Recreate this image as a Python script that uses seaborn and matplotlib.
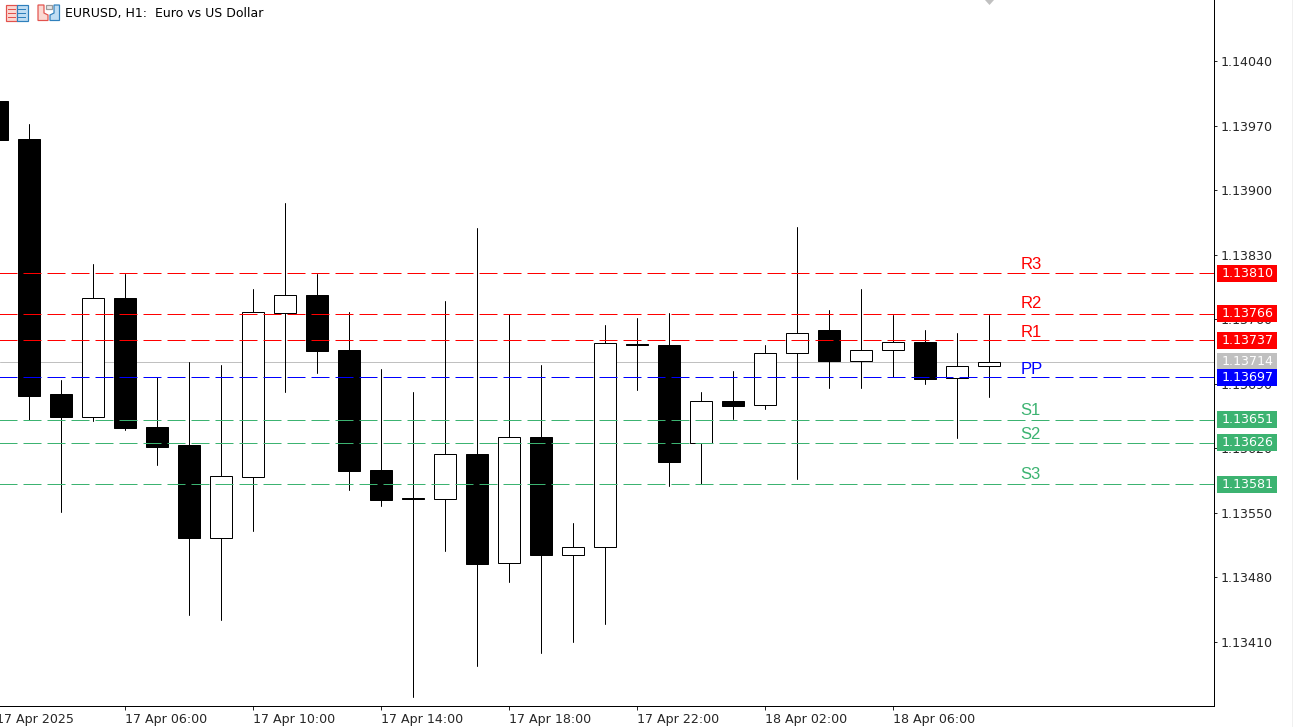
"""EURUSD H1 candles with pivot levels, in the terminal's look."""

import matplotlib

matplotlib.use("Agg")
import matplotlib.pyplot as plt
import matplotlib.transforms as mtransforms
import numpy as np
import pandas as pd
import seaborn as sns
from matplotlib.patches import Polygon, Rectangle

OPEN = [
    1.13997, 1.13955, 1.13679, 1.13654, 1.13783, 1.13643, 1.13623, 1.13523,
    1.13589, 1.13767, 1.13786, 1.13726, 1.13596, 1.13566, 1.13565, 1.13614,
    1.13495, 1.13632, 1.13504, 1.13513, 1.13733, 1.13732, 1.13626, 1.13671,
    1.13667, 1.13723, 1.13748, 1.13715, 1.13727, 1.13735, 1.13696, 1.13709,
]
CLOSE = [
    1.13954, 1.13677, 1.13654, 1.13783, 1.13642, 1.13621, 1.13523, 1.13590,
    1.13768, 1.13786, 1.13725, 1.13595, 1.13564, 1.13565, 1.13614, 1.13494,
    1.13632, 1.13504, 1.13513, 1.13734, 1.13732, 1.13605, 1.13671, 1.13666,
    1.13723, 1.13745, 1.13715, 1.13727, 1.13735, 1.13695, 1.13709, 1.13714,
]
HIGH = [
    1.13997, 1.13972, 1.13694, 1.13820, 1.13809, 1.13697, 1.13713, 1.13710,
    1.13793, 1.13886, 1.13809, 1.13768, 1.13706, 1.13681, 1.13780, 1.13859,
    1.13766, 1.13710, 1.13539, 1.13754, 1.13761, 1.13767, 1.13681, 1.13704,
    1.13732, 1.13860, 1.13770, 1.13793, 1.13765, 1.13748, 1.13745, 1.13764,
]
LOW = [
    1.13954, 1.13650, 1.13551, 1.13649, 1.13640, 1.13602, 1.13439, 1.13433,
    1.13530, 1.13681, 1.13701, 1.13575, 1.13557, 1.13350, 1.13508, 1.13384,
    1.13475, 1.13398, 1.13410, 1.13429, 1.13683, 1.13579, 1.13581, 1.13652,
    1.13663, 1.13586, 1.13685, 1.13685, 1.13697, 1.13690, 1.13631, 1.13675,
]

LEVEL_NAMES = ["R3", "R2", "R1", "PP", "S1", "S2", "S3"]
LEVEL_PRICES = [1.13810, 1.13766, 1.13737, 1.13697, 1.13651, 1.13626, 1.13581]
LEVEL_COLORS = ["#FF0000", "#FF0000", "#FF0000", "#0000FF", "#3CB371", "#3CB371", "#3CB371"]
LEVEL_TEXT_OFFSETS = [4, 5.5, 3.5, 3, 5, 4, 5.5]  # px above the line
LAST_PRICE = 1.13714
LAST_COLOR = "#C0C0C0"

Y_TICKS = [1.14040, 1.13970, 1.13900, 1.13830, 1.13760, 1.13690, 1.13620, 1.13550, 1.13480, 1.13410]
X_TICKS = [4, 8, 12, 16, 20, 24, 28]
X_TICK_LABELS = [
    "17 Apr 06:00", "17 Apr 10:00", "17 Apr 14:00", "17 Apr 18:00",
    "17 Apr 22:00", "18 Apr 02:00", "18 Apr 06:00",
]
FIRST_LABEL = "17 Apr 2025"
TITLE = "EURUSD, H1:  Euro vs US Dollar"

W, H = 1293, 727
PX = 0.72  # one pixel in points at dpi 100
PRICE_PER_PX = 1.0853e-5
FONT_SIZE = 9.1

sns.set_style("white")
plt.rcParams["font.family"] = ["DejaVu Sans"]
plt.rcParams["font.size"] = FONT_SIZE


def icon_poly(fig, pts, fc, ec=None):
    # icons are given in screen pixels, y down
    xy = [(x, H - y) for x, y in pts]
    fig.add_artist(Polygon(xy, closed=True, transform=mtransforms.IdentityTransform(),
                           fc=fc, ec=ec or "none", lw=PX * 1.2))


def draw_icons(fig):
    red, pink = "#E2524D", "#FBD8D2"
    blue, pale = "#2F80BC", "#BFDDF3"
    icon_poly(fig, [(6, 4.5), (17, 4.5), (17, 20.5), (6, 20.5)], pink, red)
    icon_poly(fig, [(17, 4.5), (27.5, 4.5), (27.5, 20.5), (17, 20.5)], pale, blue)
    for y in (8.5, 12.5, 16.5):
        icon_poly(fig, [(8, y), (16, y), (16, y + 1.5), (8, y + 1.5)], red)
        icon_poly(fig, [(18, y), (26, y), (26, y + 1.5), (18, y + 1.5)], blue)
    icon_poly(fig, [(38, 5), (44, 5), (44, 13), (48, 15), (48, 20.5), (38, 20.5)], pink, red)
    icon_poly(fig, [(50, 15), (54, 13), (54, 5), (59.5, 5), (59.5, 20.5), (50, 20.5)], pale, blue)
    icon_poly(fig, [(45.5, 5), (52, 5), (52, 8.5), (45.5, 8.5)], "#E8E8E8", "#9A9A9A")


def main():
    candles = pd.DataFrame({"bar": np.arange(len(OPEN)), "open": OPEN, "close": CLOSE, "high": HIGH, "low": LOW})
    candles["top"] = candles[["open", "close"]].max(axis=1)
    candles["bottom"] = candles[["open", "close"]].min(axis=1)
    candles["size"] = candles["top"] - candles["bottom"]
    wicks = candles.melt(id_vars="bar", value_vars=["high", "low"], value_name="price").sort_values("bar")

    fig = plt.figure(figsize=(W / 100, H / 100), dpi=100, facecolor="white")
    ax = fig.add_axes([0, (H - 705.5) / H, 1213.5 / W, 706.5 / H])

    x_left = 3.5 / 32
    x_right = x_left + 1213.5 / 32

    sns.lineplot(x=[x_left, x_right], y=[LAST_PRICE, LAST_PRICE], ax=ax, color=LAST_COLOR,
                 linewidth=PX, zorder=1)
    sns.lineplot(data=wicks, x="bar", y="price", units="bar", estimator=None, ax=ax,
                 color="black", linewidth=PX, zorder=2)

    for bearish, fill in ((True, "black"), (False, "white")):
        part = candles[(candles["open"] > candles["close"]) == bearish]
        sns.barplot(data=part, x="bar", y="size", bottom=part["bottom"].to_numpy(), native_scale=True,
                    ax=ax, width=22 / 32, color=fill, saturation=1, edgecolor="black",
                    linewidth=PX, zorder=3, errorbar=None)

    for name, price, color, off in zip(LEVEL_NAMES, LEVEL_PRICES, LEVEL_COLORS, LEVEL_TEXT_OFFSETS):
        sns.lineplot(x=[0, x_right], y=[price, price], ax=ax, color=color, linewidth=PX,
                     linestyle=(0, (18, 6)), zorder=4)
        ax.annotate(name, xy=(32, price), xytext=(0, off * PX), textcoords="offset points",
                    color=color, fontsize=12, family="Liberation Sans", va="baseline", ha="left", zorder=5)

    ax.set_xlim(x_left, x_right)
    ax.set_ylim(1.133407, 1.141074)
    ax.set_xlabel("")
    ax.set_ylabel("")

    ax.yaxis.tick_right()
    ax.set_yticks(Y_TICKS)
    ax.set_yticklabels([f"{v:.5f}" for v in Y_TICKS])
    ax.set_xticks(X_TICKS)
    ax.set_xticklabels(X_TICK_LABELS, ha="left")
    ax.tick_params(axis="y", right=True, left=False, length=3 * PX, width=PX, pad=4.5 * PX, labelsize=FONT_SIZE)
    ax.tick_params(axis="x", bottom=True, length=4 * PX, width=PX, pad=4 * PX, labelsize=FONT_SIZE)
    nudge = mtransforms.ScaledTranslation(0.4 / 100, 0, fig.dpi_scale_trans)
    for label in ax.get_xticklabels():
        label.set_transform(label.get_transform() + nudge)
    ax.set_facecolor("white")
    for side in ("left", "top"):
        ax.spines[side].set_visible(False)
    for side in ("right", "bottom"):
        ax.spines[side].set_color("black")
        ax.spines[side].set_linewidth(PX)

    ax.annotate(FIRST_LABEL, xy=(0, 0), xycoords=ax.get_xaxis_transform(), xytext=(0, -8 * PX),
                textcoords="offset points", ha="left", va="top", fontsize=FONT_SIZE, annotation_clip=False)

    # price tags sit in the right margin, x in screen pixels
    tag_trans = mtransforms.blended_transform_factory(mtransforms.IdentityTransform(), ax.transData)
    half = 8.5 * PRICE_PER_PX
    tags = [(LAST_PRICE, LAST_COLOR)] + list(zip(LEVEL_PRICES, LEVEL_COLORS))
    for i, (price, color) in enumerate(tags):
        ax.add_patch(Rectangle((1217, price - half), 60, 2 * half, transform=tag_trans, fc=color,
                               ec="none", clip_on=False, zorder=6 + i))
        ax.text(1221.5, price, f"{price:.5f}", transform=tag_trans, color="white", fontsize=FONT_SIZE,
                va="center", ha="left", clip_on=False, zorder=6 + i)

    draw_icons(fig)
    fig.text(65 / W, (H - 13) / H, TITLE, fontsize=9.0, va="center", ha="left", color="black")
    icon_poly(fig, [(985, 0), (994, 0), (989.5, 5)], LAST_COLOR)
    icon_poly(fig, [(1292, 0), (1293, 0), (1293, H), (1292, H)], "#F0F0F0")

    fig.savefig("out.png", dpi=100)
    plt.close(fig)


if __name__ == "__main__":
    main()
